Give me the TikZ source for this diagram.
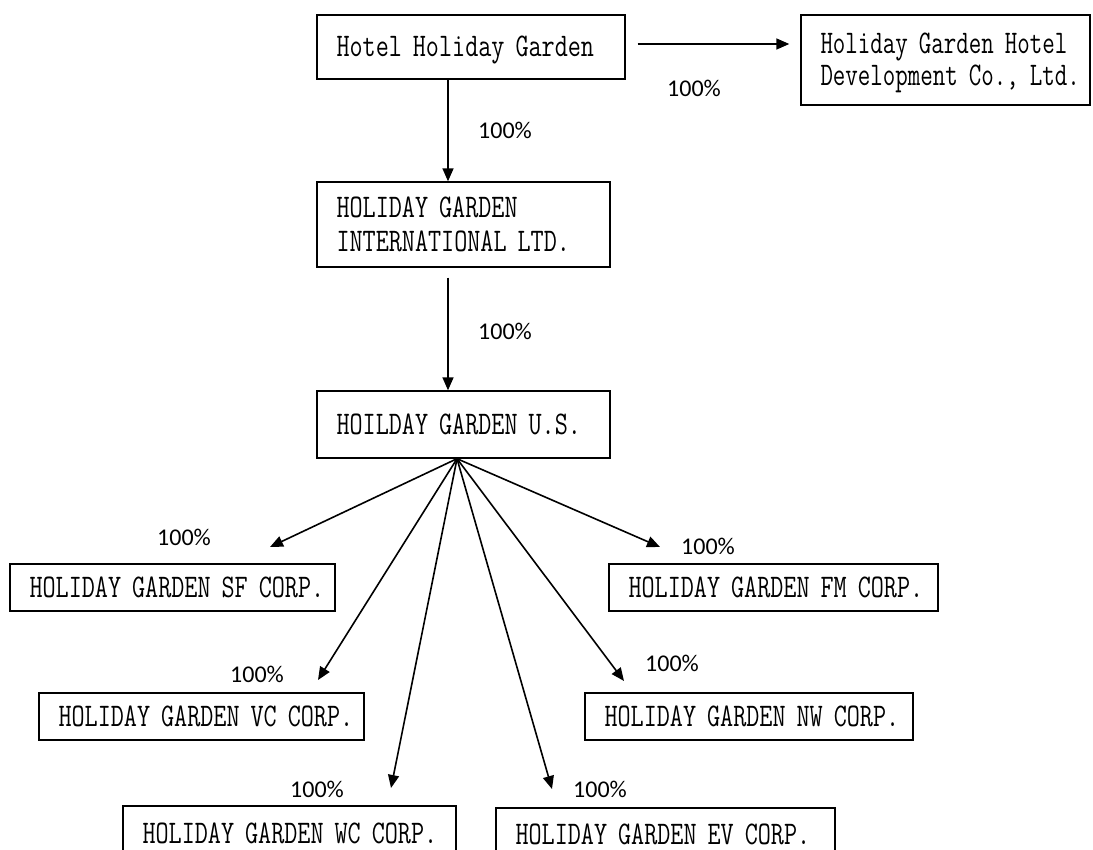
\documentclass[tikz,border=0pt]{standalone}
\usepackage{fontspec}
\usetikzlibrary{arrows.meta,calc}
\newfontfamily\boxfont{Latin Modern Mono}[FakeStretch=0.77]
\newfontfamily\boxfontn{Latin Modern Mono}[FakeStretch=0.735]
\newfontfamily\pctfont{Carlito}
\begin{document}
\begin{tikzpicture}[x=1pt,y=-1pt,
  box/.style={draw, line width=1.4pt, inner xsep=19.5pt, inner ysep=0pt, align=left,
    font=\boxfont\fontsize{33}{33}\selectfont, text height=20pt, text depth=0pt},
  twoline/.style={text depth=#1},
  arr/.style={line width=1.6pt, -{Triangle[length=13pt,width=11pt]}},
  pct/.style={font=\pctfont\fontsize{24}{24}\selectfont, inner sep=0pt}]
\useasboundingbox (0,0) rectangle (1093,850);
\clip (0,0) rectangle (1093,850);
% boxes
\node[box, text width=269pt, minimum height=64pt] (n1) at (471,47) {\mbox{Hotel Holiday Garden}};
\node[box, twoline=32pt, text width=250pt, minimum height=90pt, font=\boxfontn\fontsize{33}{33}\selectfont] (n2) at (945.5,60) {\mbox{Holiday Garden Hotel}\\[-1pt]\mbox{Development Co., Ltd.}};
\node[box, twoline=34pt, text width=254pt, minimum height=85pt] (n3) at (463.5,224.5) {\mbox{HOLIDAY GARDEN}\\[1pt]\mbox{INTERNATIONAL LTD.}};
\node[box, text width=254pt, minimum height=67pt] (n4) at (463.5,424.5) {\mbox{HOILDAY GARDEN U.S.}};
\node[box, text width=286pt, minimum height=47pt] (sf) at (172.5,587.5) {\mbox{HOLIDAY GARDEN SF CORP.}};
\node[box, text width=286pt, minimum height=47pt] (vc) at (201.5,716.5) {\mbox{HOLIDAY GARDEN VC CORP.}};
\node[box, text width=294pt, minimum height=54pt] (wc) at (289.5,833) {\mbox{HOLIDAY GARDEN WC CORP.}};
\node[box, text width=300pt, minimum height=52pt] (ev) at (665.5,834) {\mbox{HOLIDAY GARDEN EV CORP.}};
\node[box, text width=289pt, minimum height=47pt] (nw) at (749,716.5) {\mbox{HOLIDAY GARDEN NW CORP.}};
\node[box, text width=290pt, minimum height=47pt] (fm) at (773.5,587.5) {\mbox{HOLIDAY GARDEN FM CORP.}};
% connectors
\draw[arr, shorten <=12pt, shorten >=11pt] ([yshift=3pt]n1.east) -- ([yshift=3pt]n1.east -| n2.west);
\draw[arr] ([xshift=-23pt]n1.south) -- ([xshift=-15.5pt]n3.north);
\draw[arr, shorten <=10pt] ([xshift=-15.5pt]n3.south) -- ([xshift=-15.5pt]n4.north);
\coordinate (o) at ([xshift=-6.5pt]n4.south);
\coordinate (tsf) at (270,547);
\coordinate (tvc) at (318,680);
\coordinate (twc) at (391,788);
\coordinate (tev) at (552,789);
\coordinate (tnw) at (624,681);
\coordinate (tfm) at (660,547);
\foreach \t in {tsf,tvc,twc,tev,tnw,tfm} \draw[arr] (o) -- (\t);
% labels
\node[pct] (l1) at (694,88) {100\%};
\node[pct] (l2) at (505,130) {100\%};
\node[pct] (l3) at (505,331) {100\%};
\node[pct] (lsf) at (184,537) {100\%};
\node[pct] (lvc) at (257,674) {100\%};
\node[pct] (lwc) at (317,789) {100\%};
\node[pct] (lev) at (600,789) {100\%};
\node[pct] (lnw) at (672,663) {100\%};
\node[pct] (lfm) at (708,546) {100\%};
\end{tikzpicture}
\end{document}
